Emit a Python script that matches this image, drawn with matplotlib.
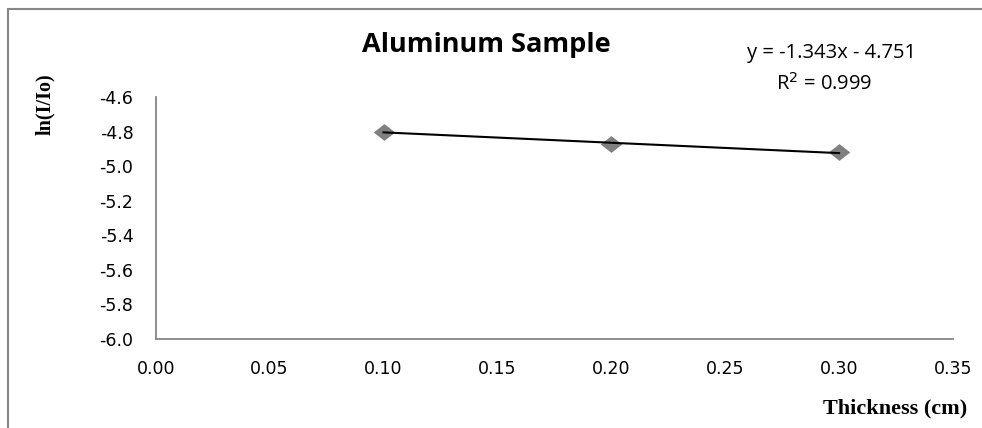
import numpy as np
import matplotlib
matplotlib.use("Agg")
import matplotlib.pyplot as plt
from matplotlib.path import Path
from matplotlib.patches import Rectangle

# Data
thickness = [0.10, 0.20, 0.30]
ln_ratio = [-4.80, -4.874, -4.92]
x_ticks = [0.00, 0.05, 0.10, 0.15, 0.20, 0.25, 0.30, 0.35]
y_ticks = [-6.0, -5.8, -5.6, -5.4, -5.2, -5.0, -4.8, -4.6]
title = "Aluminum Sample"
equation = "y = -1.343x - 4.751"
r2_text = "R$^2$ = 0.999"

fig = plt.figure(figsize=(9.82, 4.28), dpi=100)
fig.patch.set_facecolor("white")

# outer chart border
fig.patches.append(Rectangle((8/982, -0.05), 1.2, 1 - 9/428 + 0.05,
                             transform=fig.transFigure, fill=False,
                             edgecolor="#868686", linewidth=1.5, clip_on=False))

ax = fig.add_axes([155.7/982, 89/428, (953-155.7)/982, (339-97)/428])
ax.set_xlim(0, 0.35)
ax.set_ylim(-6.0, -4.6)

diamond = Path([(-1, 0), (0, 0.78), (1, 0), (0, -0.78), (-1, 0)],
               [Path.MOVETO, Path.LINETO, Path.LINETO, Path.LINETO, Path.CLOSEPOLY])
ax.plot(thickness, ln_ratio, linestyle="none", marker=diamond, markersize=15.5,
        color="#808080", markeredgewidth=0, zorder=3)

coef = np.polyfit(thickness, ln_ratio, 1)
xs = np.array([thickness[0], thickness[-1]])
ax.plot(xs, np.polyval(coef, xs), color="black", linewidth=1.5, zorder=4)

ax.set_xticks(x_ticks)
ax.set_xticklabels([f"{v:.2f}" for v in x_ticks])
ax.set_yticks(y_ticks)
ax.set_yticklabels([f"{v:.1f}" for v in y_ticks])
ax.tick_params(axis="both", length=0, labelsize=12.5, colors="black")
ax.tick_params(axis="x", pad=15)
ax.tick_params(axis="y", pad=16)
for s in ["top", "right"]:
    ax.spines[s].set_visible(False)
for s in ["left", "bottom"]:
    ax.spines[s].set_color("#868686")
    ax.spines[s].set_linewidth(1.3)

fig.text(486/982, 1 - 45/428, title, ha="center", va="center",
         fontsize=19.5, fontweight="bold", family="Open Sans")
fig.text(832/982, 1 - 53/428, equation, ha="center", va="center", fontsize=14.5,
         family="Open Sans")
fig.text(824/982, 1 - 84/428, r2_text, ha="center", va="center", fontsize=14.5,
         family="Open Sans")
fig.text(45/982, 1 - 104/428, "ln(I/Io)", ha="center", va="center", rotation=90,
         fontsize=14.5, fontweight="bold", family="Liberation Serif")
fig.text(967/982, 1 - 408/428, "Thickness (cm)", ha="right", va="center",
         fontsize=16, fontweight="bold", family="Liberation Serif")

fig.savefig("out.png", dpi=100)
